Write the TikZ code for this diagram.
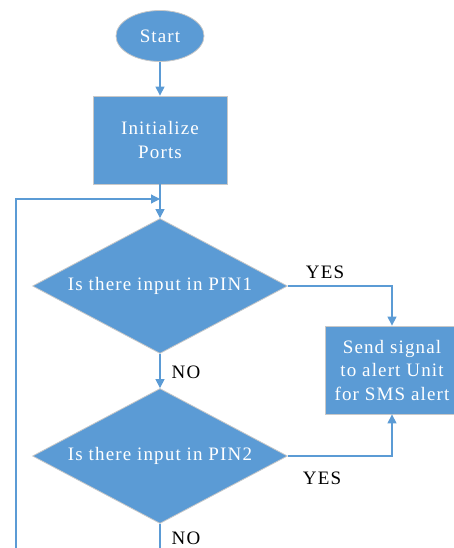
\documentclass[tikz,border=0pt]{standalone}
\usepackage{fontspec}
\setmainfont{Liberation Serif}
\newfontfamily\diagfont[LetterSpace=6]{Liberation Serif}
\usetikzlibrary{shapes.geometric,arrows.meta}
\definecolor{boxblue}{HTML}{5B9BD5}
\definecolor{edgegray}{HTML}{C8C8C8}
\begin{document}
\begin{tikzpicture}[x=1pt,y=-1pt,
  every node/.style={font=\diagfont\fontsize{19}{23.5}\selectfont},
  blockfill/.style={fill=boxblue, draw=edgegray, line width=0.8pt, text=white, align=center, inner sep=0pt},
  term/.style={blockfill, ellipse, minimum width=88pt, minimum height=51pt},
  proc/.style={blockfill, rectangle, minimum width=134pt, minimum height=88pt},
  decision/.style={blockfill, diamond, minimum width=255pt, minimum height=135pt, aspect=1.89},
  flow/.style={draw=boxblue, line width=1.2pt, -{Triangle[width=9pt,length=9pt]}},
  plain/.style={draw=boxblue, line width=1.2pt},
  lbl/.style={text=black, inner sep=0pt}]
\useasboundingbox (0,0) rectangle (454,548);
\node[term] (start) at (160,36) {Start};
\node[proc] (init) at (160,140) {Initialize\\Ports};
\node[decision] (d1) at (160,286) {Is there input in PIN1};
\node[decision] (d2) at (160,456) {Is there input in PIN2};
\node[proc] (send) at (392,370) {Send signal\\to alert Unit\\for SMS alert};
\coordinate (join) at (160,199);
\coordinate (loopbot) at (16,548);
\coordinate (looptop) at (16,199);
\coordinate (d2end) at (160,548);
\draw[flow] (start) -- (init);
\draw[plain] (init) -- (join);
\draw[flow] (join) -- (d1.north);
\draw[flow] (loopbot) -- (looptop) -- (join);
\draw[flow] (d1.east) -| (send.north);
\draw[flow] (d1.south) -- (d2.north);
\draw[flow] (d2.east) -| (send.south);
\draw[plain] (d2.south) -- (d2end);
\node[lbl] (yes1) at (325,272) {YES};
\node[lbl] (no1) at (186,372) {NO};
\node[lbl] (yes2) at (322,478) {YES};
\node[lbl] (no2) at (186,538) {NO};
\end{tikzpicture}
\end{document}
